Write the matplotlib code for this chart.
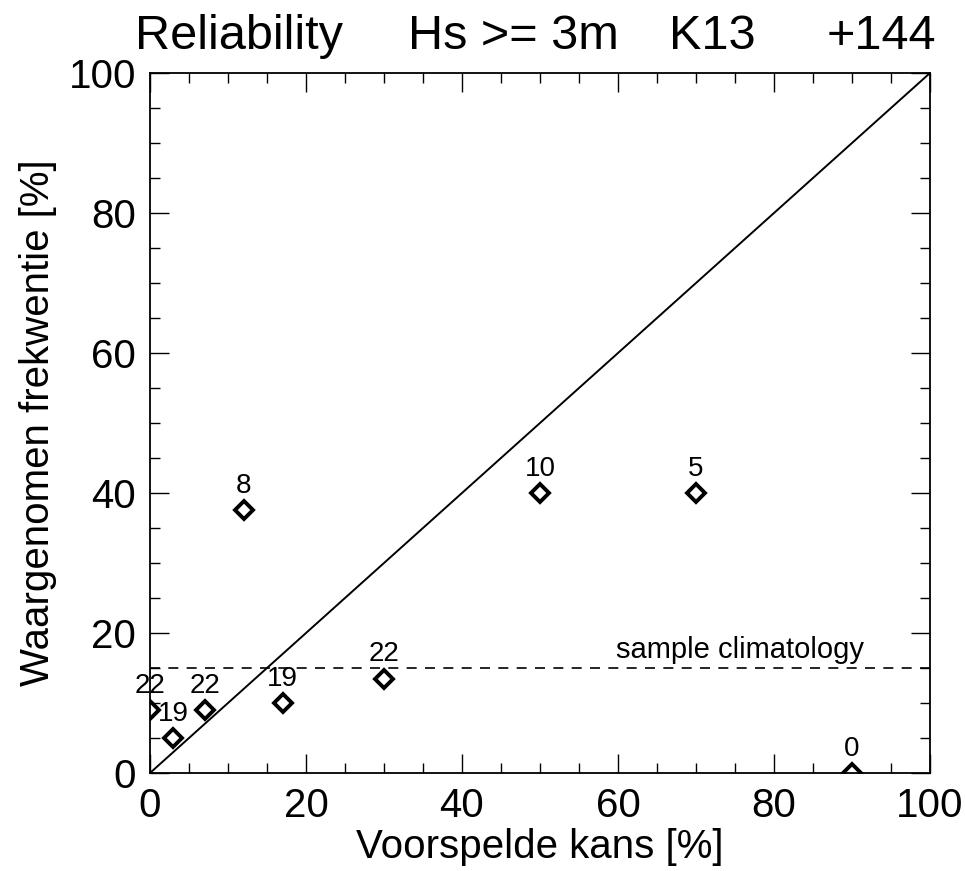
import numpy as np
import matplotlib
matplotlib.use('Agg')
import matplotlib.pyplot as plt

plt.rcParams['font.family'] = ['Liberation Sans', 'DejaVu Sans']

# forecast probability vs observed frequency
fc_prob = [0, 3, 7, 12, 17, 30, 50, 70, 90]
obs_freq = [9, 5, 9, 37.5, 10, 13.5, 40, 40, 0]
counts = ['22', '19', '22', '8', '19', '22', '10', '5', '0']
climatology = 15

title_parts = ['Reliability', 'Hs >= 3m', 'K13', '+144']
title_x = [0.140, 0.423, 0.693, 0.857]

fig = plt.figure(figsize=(9.65, 8.71), dpi=100)
ax = fig.add_axes([150/965, 1-773/871, 780/965, 700/871])

ax.plot([0, 100], [0, 100], color='black', lw=1.4)
ax.axhline(climatology, color='black', lw=1.2, ls=(0, (6, 5)))
ax.text(91.5, climatology+0.6, 'sample climatology', ha='right', va='bottom', fontsize=21)

ax.plot(fc_prob, obs_freq, ls='none', marker='D', markersize=9, mfc='white',
        mec='black', mew=2.8, zorder=5)
for x, y, c in zip(fc_prob, obs_freq, counts):
    ax.text(x, y+1.6, c, ha='center', va='bottom', fontsize=20)

ax.set_xlim(0, 100)
ax.set_ylim(0, 100)
ax.set_xticks(np.arange(0, 101, 20))
ax.set_yticks(np.arange(0, 101, 20))
ax.set_xticks(np.arange(0, 101, 5), minor=True)
ax.set_yticks(np.arange(0, 101, 5), minor=True)
ax.tick_params(which='both', direction='in', top=True, right=True, width=1)
ax.tick_params(which='major', length=14, labelsize=29, pad=10)
ax.tick_params(which='minor', length=7)
for s in ax.spines.values():
    s.set_linewidth(1.3)
    s.set_zorder(6)

ax.set_xlabel('Voorspelde kans [%]', fontsize=29, labelpad=2)
ax.set_ylabel('Waargenomen frekwentie [%]', fontsize=29, labelpad=8)

for t, x in zip(title_parts, title_x):
    fig.text(x, 0.958, t, ha='left', va='center', fontsize=35)

fig.savefig('out.png', dpi=100)
